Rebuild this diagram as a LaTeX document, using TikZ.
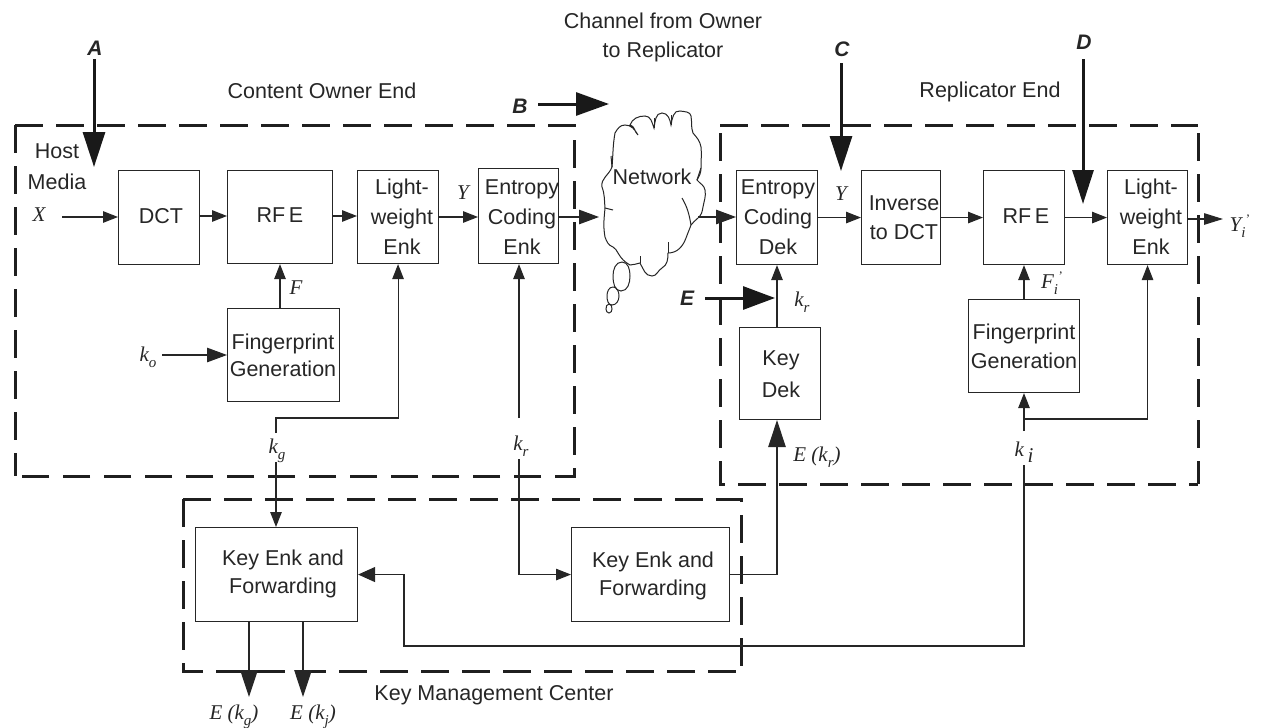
\documentclass[tikz,border=0pt]{standalone}
\usepackage{fontspec}
\setmainfont{Liberation Sans}
\newfontfamily\serifi[Ligatures=TeX]{Liberation Serif}
\usetikzlibrary{arrows.meta,calc}
\newcommand{\mv}[1]{{\serifi\itshape #1}}
\newcommand{\sbx}[1]{\raisebox{-0.55ex}{\serifi\itshape\fontsize{15}{15}\selectfont #1}}
\newcommand{\prm}{\raisebox{0.75ex}{\kern 0.02em\serifi\fontsize{13}{13}\selectfont '}}
\tikzset{
  x=1pt,y=-1pt,
  every node/.style={font=\fontsize{21.5}{30}\selectfont,text=black!85},
  block/.style={draw=black!85,line width=1.1pt,anchor=north west,inner sep=0pt},
  blocktext/.style={align=center,inner sep=0pt},
  zone/.style={draw=black!88,line width=3pt,dash pattern=on 27.5pt off 13.5pt},
  wire/.style={draw=black!85,line width=1.1pt},
  flow/.style={wire,-{Triangle[length=15pt,width=11.5pt]}},
  midflow/.style={wire,-{Triangle[length=20pt,width=14.5pt]}},
  heavy/.style={wire,-{Triangle[length=27pt,width=17.5pt]}},
  attack/.style={draw=black!90,line width=3pt,-{Triangle[length=35pt,width=22pt]}},
  letter/.style={font=\fontsize{21}{22}\selectfont\bfseries\itshape},
  var/.style={font=\fontsize{21}{22}\selectfont,inner sep=0pt},
  caption/.style={align=center,inner sep=0pt},
  cloudline/.style={draw=black!85,line width=1pt}
}
\begin{document}
\begin{tikzpicture}
\useasboundingbox (0,0) rectangle (1262,728);
% zones
\draw[zone] (15,125) -- (574,125) -- (574,476) -- (15,476);
\draw[zone] (15,125) -- (15,476);
\draw[zone] (720,125) -- (1198,125);
\draw[zone] (720,133) -- (720,484) -- (1198,484);
\draw[zone] (1198,133) -- (1198,484);
\draw[zone] (183,499) -- (741,499) -- (741,671);
\draw[zone] (183,499) -- (183,671) -- (741,671);
% blocks
\node[block,minimum width=81pt,minimum height=94pt] (dct) at (118,170) {};
\node[block,minimum width=105pt,minimum height=93pt] (rfea) at (227,170) {};
\node[block,minimum width=81pt,minimum height=93pt] (lwa) at (357,170) {};
\node[block,minimum width=80pt,minimum height=95pt] (eca) at (478,168) {};
\node[block,minimum width=112pt,minimum height=93pt] (fpa) at (227,308) {};
\node[block,minimum width=81pt,minimum height=94pt] (ecb) at (736,170) {};
\node[block,minimum width=79pt,minimum height=94pt] (inv) at (861,170) {};
\node[block,minimum width=81pt,minimum height=94pt] (rfeb) at (983,170) {};
\node[block,minimum width=80pt,minimum height=94pt] (lwb) at (1107,170) {};
\node[block,minimum width=111pt,minimum height=93pt] (fpb) at (968,299) {};
\node[block,minimum width=81pt,minimum height=92pt] (kd) at (739,327) {};
\node[block,minimum width=162pt,minimum height=94pt] (kea) at (195,527) {};
\node[block,minimum width=158pt,minimum height=94pt] (keb) at (571,527) {};
% block texts
\node[blocktext] (tdct) at (161,216) {DCT};
\node[blocktext] (trfea) at (280,215) {RF\,E};
\node[blocktext] (tlwa) at (402,216.5) {Light-\\weight\\Enk};
\node[blocktext] (teca) at (522,217) {Entropy\\Coding\\Enk};
\node[blocktext,font=\fontsize{21.5}{27}\selectfont] (tfpa) at (283,355) {Fingerprint\\Generation};
\node[blocktext] (tecb) at (778,217) {Entropy\\Coding\\Dek};
\node[blocktext,font=\fontsize{21.5}{29}\selectfont] (tinv) at (904,217.5) {Inverse\\to DCT};
\node[blocktext] (trfeb) at (1026,216) {RF\,E};
\node[blocktext] (tlwb) at (1151,217) {Light-\\weight\\Enk};
\node[blocktext,font=\fontsize{21.5}{29}\selectfont] (tfpb) at (1024,346.5) {Fingerprint\\Generation};
\node[blocktext,font=\fontsize{21.5}{32}\selectfont] (tkd) at (781,374.5) {Key\\Dek};
\node[blocktext,font=\fontsize{21.5}{28}\selectfont] (tkea) at (283,574) {Key Enk and\\Forwarding};
\node[blocktext,font=\fontsize{21.5}{28}\selectfont] (tkeb) at (653,576) {Key Enk and\\Forwarding};
% cloud
\draw[cloudline,fill=white] (638,135)
 to[out=140,in=-10,looseness=1] (630,125) to[out=70,in=180] (645,116) to[out=0,in=110] (654,128)
 to[out=80,in=180] (662,113) to[out=0,in=100] (671,125)
 to[out=80,in=170] (680,111) to[out=-10,in=100] (691,116) to[out=-80,in=110] (693,133)
 to[out=-50,in=100] (701,147) to[out=-85,in=90] (701,168) to[out=-90,in=60] (697,180)
 to[out=-50,in=100] (705,190) to[out=-80,in=80] (703,207) to[out=-100,in=40] (698,218) to[out=-130,in=60] (691,225)
 to[out=-110,in=70] (686,238) to[out=-110,in=0] (668,253) to[out=-90,in=30] (662,268) to[out=-150,in=0] (652,276)
 to[out=180,in=-60] (640,263) to[out=-170,in=0] (630,265) to[out=150,in=-60] (618,253)
 to[out=130,in=-20] (613,247) to[out=160,in=-70] (605,237) to[out=100,in=-95] (605,208)
 to[out=95,in=-70] (602,187) to[out=100,in=-110] (612,167) to[out=85,in=-100] (615,133)
 to[out=60,in=180] (625,125) to[out=0,in=120] (638,135) -- cycle;
\node[inner sep=0pt] (net) at (652,177) {Network};
\draw[cloudline] (682,198) to[out=-60,in=100] (691,225);
\draw[cloudline] (668,253) -- (668,242);
\draw[cloudline] (640,263) -- (640,256);
\draw[cloudline] (654,128) -- (654,118);
\draw[cloudline] (671,125) -- (671,115);
\draw[cloudline] (612,167) -- (611,156);
\draw[cloudline] (605,208) -- (613,210);
\draw[cloudline] (697,180) -- (701,168);
\draw[cloudline] (622,262) to[out=180,in=90] (613,276) to[out=-90,in=180] (621,291) to[out=0,in=-90] (630,276) to[out=90,in=0] (622,262);
\draw[cloudline] (613,287) to[out=180,in=90] (607,296) to[out=-90,in=180] (612,305) to[out=0,in=-90] (619,296) to[out=90,in=0] (613,287);
\draw[cloudline] (609,304) to[out=180,in=90] (606,309) to[out=-90,in=180] (609,313) to[out=0,in=-90] (612,309) to[out=90,in=0] (609,304);
% labels
\node[letter] (la) at (95,48) {A};
\node[letter] (lb) at (520,106) {B};
\node[letter] (lc) at (842,49) {C};
\node[letter] (ld) at (1084,42) {D};
\node[letter] (le) at (687,298) {E};
\coordinate (as) at (94,59);  \coordinate (ae) at (94,167);
\coordinate (bs) at (538,104); \coordinate (be) at (609,104);
\coordinate (cs) at (841,63); \coordinate (ce) at (841,171);
\coordinate (ds) at (1083,59); \coordinate (de) at (1083,204);
\coordinate (es) at (705,298); \coordinate (ee) at (775,298);
\draw[attack] (as) -- (ae);
\draw[attack,-{Triangle[length=33pt,width=23pt]}] (bs) -- (be);
\draw[attack] (cs) -- (ce);
\draw[attack,-{Triangle[length=34pt,width=21pt]}] (ds) -- (de);
\draw[attack,-{Triangle[length=32pt,width=23pt]}] (es) -- (ee);
\node[caption] (coe) at (322,91) {Content Owner End};
\node[caption,font=\fontsize{21.5}{29}\selectfont] (chan) at (663,37.5) {Channel from Owner\\to Replicator};
\node[caption] (rep) at (990,92) {Replicator End};
\node[caption] (kmc) at (494,695) {Key Management Center};
\node[caption,font=\fontsize{21.5}{31}\selectfont] (host) at (57,166.5) {Host\\Media};
% vars
\node[var] (x) at (39,215) {\mv{X}};
\node[var] (ya) at (463,193) {\mv{Y}};
\node[var] (yb) at (841,194) {\mv{Y}};
\node[var] (f) at (296,288) {\mv{F}};
\node[var] (ko) at (148,357) {\mv{k}\sbx{o}};
\node[var] (kg) at (277,451) {\mv{k}\sbx{g}};
\node[var] (kr) at (521,446) {\mv{k}\sbx{r}};
\node[var] (kr2) at (802,302) {\mv{k}\sbx{r}};
\node[var] (ekr) at (817,457) {\mv{E (k}\sbx{r}\mv{)}};
\node[var] (ki) at (1024,452) {\mv{k}\,\raisebox{-0.55ex}{\mv{i}}};
\node[var] (fi) at (1052,283) {\mv{F}\sbx{i}\prm};
\node[var] (yi) at (1240,226) {\mv{Y}\sbx{i}\prm};
\node[var] (eg) at (234,717) {\mv{E (k}\sbx{g}\mv{)}};
\node[var] (ej) at (313,717) {\mv{E (k}\sbx{j}\mv{)}};
% connector guide coordinates
\coordinate (xin) at (62,217);
\coordinate (koin) at (162,355);
\coordinate (cloudin) at (599,217);
\coordinate (cloudout) at (698,217);
\coordinate (yo) at (1223,219);
\coordinate (fa) at (280,0);
\coordinate (kgtop) at (276,433);
\coordinate (kgbot) at (276,462);
\coordinate (krtop) at (519,418);
\coordinate (krbot) at (519,459);
\coordinate (kdx) at (777,0);
\coordinate (fb) at (1024,0);
\coordinate (kitop) at (1024,431);
\coordinate (kibot) at (1024,465);
\coordinate (lanea) at (0,418);
\coordinate (laneb) at (0,419);
\coordinate (lanec) at (0,646);
\coordinate (lanex) at (404,0);
% connectors
\draw[flow] (xin) -- (xin-|dct.west);
\draw[flow] (0,216-|dct.east) -- (0,216-|rfea.west);
\draw[flow] (0,216-|rfea.east) -- (0,216-|lwa.west);
\draw[flow] (0,217-|lwa.east) -- (0,217-|eca.west);
\draw[midflow] (0,217-|eca.east) -- (cloudin);
\draw[midflow] (cloudout) -- (cloudout-|ecb.west);
\draw[flow] (ecb.east) -- (ecb.east-|inv.west);
\draw[flow] (inv.east) -- (inv.east-|rfeb.west);
\draw[flow] (rfeb.east) -- (rfeb.east-|lwb.west);
\draw[midflow,-{Triangle[length=19pt,width=11.5pt]}] (yo-|lwb.east) -- (yo);
\draw[flow] (fa|-fpa.north) -- (fa|-rfea.south);
\draw[midflow] (koin) -- (koin-|fpa.west);
\draw[flow] (kgtop) -- (kgtop|-lanea) -- (lwa.south|-lanea) -- (lwa.south);
\draw[flow] (kgbot) -- (kgbot|-kea.north);
\draw[flow] (krtop) -- (krtop|-eca.south);
\draw[flow] (krbot) -- (krbot|-keb.west) -- (keb.west);
\draw[heavy] (keb.east) -- (kdx|-keb.east) -- (kdx|-kd.south);
\draw[flow] (kdx|-kd.north) -- (kdx|-ecb.south);
\draw[flow] (fb|-fpb.north) -- (fb|-rfeb.south);
\draw[flow] (kitop) -- (kitop|-fpb.south);
\draw[flow] (fb|-laneb) -- (lwb.south|-laneb) -- (lwb.south);
\draw[midflow,-{Triangle[length=17pt,width=15pt]}] (kibot) -- (kibot|-lanec) -- (lanex|-lanec) -- (lanex|-kea.east) -- (kea.east);
\draw[heavy] (kea.south-|249,0) -- (249,697);
\draw[heavy] (kea.south-|303,0) -- (303,697);
\end{tikzpicture}
\end{document}
